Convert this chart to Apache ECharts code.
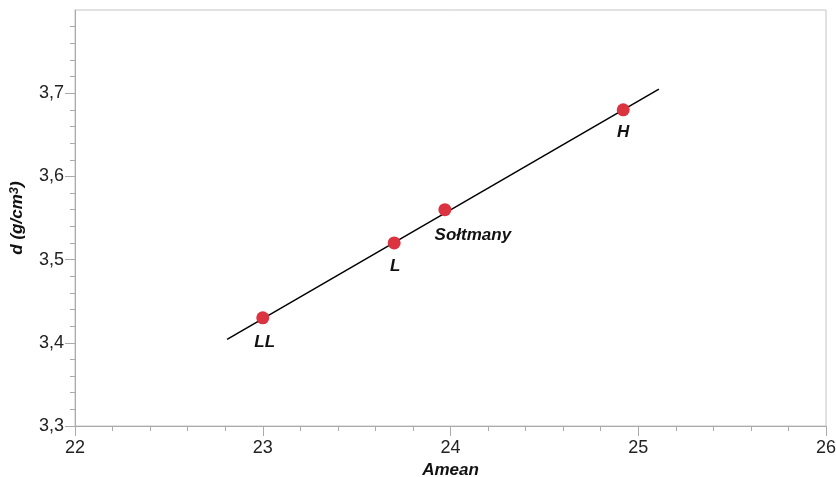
<!DOCTYPE html>
<html>
<head>
<meta charset="utf-8">
<script src="https://cdn.jsdelivr.net/npm/echarts@6/dist/echarts.min.js"></script>
<style>html,body{margin:0;padding:0;background:#fff}#c{width:836px;height:477px}</style>
</head>
<body>
<div id="c"></div>
<script>
const names = ['LL', 'L', 'Sołtmany', 'H'];
const amean = [23.0, 23.7, 23.97, 24.92];
const density = [3.43, 3.52, 3.56, 3.68];
const fitX = [22.81, 25.11];
const fitY = [3.404, 3.705];
const yTicks = [3.3, 3.4, 3.5, 3.6, 3.7];
const labelOffsets = [[2, 24], [1, 23], [28, 26], [0, 22]];

const chart = echarts.init(document.getElementById('c'));
const font = 'Liberation Sans, Arial, sans-serif';
const nameStyle = { fontFamily: font, fontSize: 17, fontWeight: 'bold', fontStyle: 'italic', color: '#111' };
chart.setOption({
  animation: false,
  grid: { left: 75, right: 10, top: 10, bottom: 51, show: true, borderColor: '#c4c4c4', borderWidth: 1, containLabel: false, outerBoundsMode: 'none' },
  xAxis: {
    type: 'value', min: 22, max: 26, interval: 1,
    name: 'Amean', nameLocation: 'middle', nameGap: 32,
    nameTextStyle: nameStyle,
    axisLine: { show: true, lineStyle: { color: '#aaa' } },
    axisTick: { show: true, inside: false, length: 10, lineStyle: { color: '#aaa' } },
    minorTick: { show: true, splitNumber: 5, length: 5, lineStyle: { color: '#aaa' } },
    axisLabel: { fontFamily: font, fontSize: 18, color: '#222', margin: 13 },
    splitLine: { show: false }
  },
  yAxis: {
    type: 'value', min: 3.3, max: 3.8, interval: 0.1,
    name: 'd (g/cm{sup|3})', nameLocation: 'middle', nameGap: 48,
    nameTextStyle: Object.assign({}, nameStyle, {
      rich: { sup: { fontFamily: font, fontSize: 13, fontWeight: 'bold', fontStyle: 'italic', color: '#111', verticalAlign: 'top', padding: [0, 0, 6, 0] } }
    }),
    axisLine: { show: true, lineStyle: { color: '#aaa' } },
    axisTick: { show: true, inside: false, length: 10, lineStyle: { color: '#aaa' }, customValues: yTicks },
    minorTick: { show: true, splitNumber: 5, length: 5, lineStyle: { color: '#aaa' } },
    axisLabel: {
      fontFamily: font, fontSize: 18, color: '#222', margin: 11, customValues: yTicks,
      formatter: v => v.toFixed(1).replace('.', ',')
    },
    splitLine: { show: false }
  },
  series: [
    {
      type: 'line',
      data: fitX.map((x, i) => [x, fitY[i]]),
      showSymbol: false, symbol: 'none',
      lineStyle: { color: '#000', width: 1.5 },
      z: 2
    },
    {
      type: 'scatter',
      symbolSize: 13,
      itemStyle: { color: '#dc3340', opacity: 1 },
      data: amean.map((x, i) => ({
        value: [x, density[i]],
        label: {
          show: true, formatter: names[i], position: 'inside', offset: labelOffsets[i],
          fontFamily: font, fontSize: 17, fontWeight: 'bold', fontStyle: 'italic', color: '#111'
        }
      })),
      z: 3
    }
  ]
});
</script>
</body>
</html>
